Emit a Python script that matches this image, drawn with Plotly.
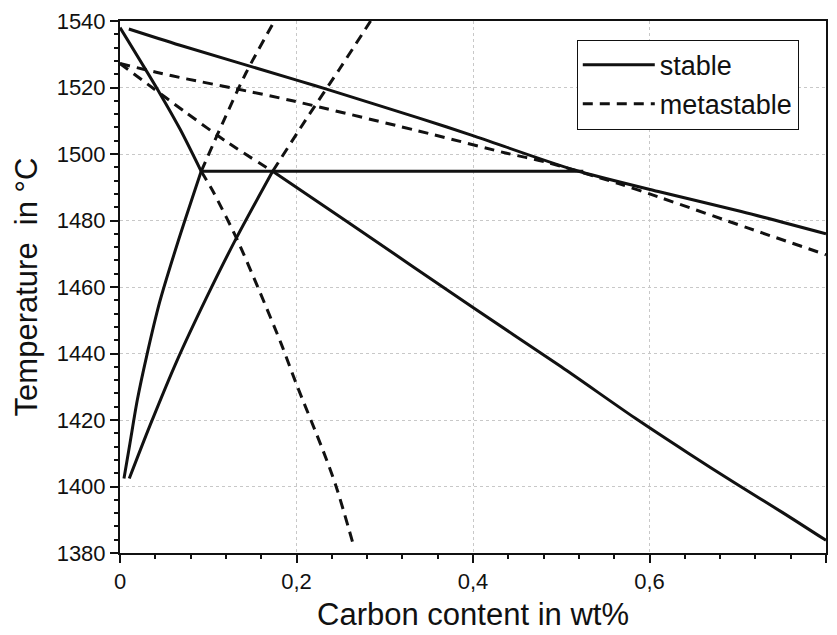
import plotly.graph_objects as go

# ---- data (wt% C, temperature in °C) ----
# stable (solid)
liq_x = [0.01, 0.068, 0.203, 0.234, 0.339, 0.399, 0.516, 0.61, 0.704, 0.8]
liq_y = [1537.6, 1532.7, 1522.0, 1519.5, 1510.8, 1505.6, 1495.1, 1488.7, 1482.7, 1476.0]

dsol_x = [0.0, 0.045, 0.068, 0.092]
dsol_y = [1538.0, 1518.3, 1507.5, 1494.8]

peri_x = [0.092, 0.525]
peri_y = [1494.8, 1494.8]

gsol_x = [0.173, 0.26, 0.4, 0.5, 0.584, 0.644, 0.7, 0.75, 0.8]
gsol_y = [1494.8, 1479.2, 1453.8, 1436.0, 1420.5, 1410.0, 1400.5, 1392.3, 1383.8]

dbound_x = [0.092, 0.065, 0.045, 0.03, 0.0196, 0.0113, 0.0045]
dbound_y = [1494.8, 1473.0, 1455.5, 1439.0, 1426.0, 1413.0, 1402.4]

gbound_x = [0.173, 0.1318, 0.098, 0.064, 0.0339, 0.0105]
gbound_y = [1494.8, 1474.7, 1456.8, 1437.5, 1418.3, 1402.4]

# metastable (dashed)
mliq_x = [0.0, 0.041, 0.0753, 0.128, 0.1955, 0.354, 0.437, 0.482, 0.565, 0.61, 0.712, 0.8]
mliq_y = [1527.2, 1524.6, 1522.6, 1519.8, 1516.0, 1505.9, 1500.3, 1497.6, 1491.1, 1487.1, 1477.7, 1469.7]

mgsol_x = [0.0, 0.0263, 0.0735, 0.124, 0.173]
mgsol_y = [1527.2, 1522.0, 1512.7, 1503.1, 1494.8]

mdsol_x = [0.092, 0.1055, 0.132, 0.158, 0.1827, 0.1996, 0.2298, 0.2448, 0.2644]
mdsol_y = [1494.8, 1488.7, 1474.7, 1458.8, 1442.9, 1431.0, 1411.0, 1400.1, 1382.5]

mdb_x = [0.092, 0.1168, 0.143, 0.175]
mdb_y = [1494.8, 1509.6, 1524.5, 1540.0]

mgb_x = [0.173, 0.211, 0.2486, 0.284]
mgb_y = [1494.8, 1510.5, 1525.5, 1540.0]

x_ticks = [0, 0.2, 0.4, 0.6, 0.8]
x_ticklabels = ["0", "0,2", "0,4", "0,6", "0,8"]
y_ticks = [1380, 1400, 1420, 1440, 1460, 1480, 1500, 1520, 1540]

stable = [(liq_x, liq_y, "spline"), (dsol_x, dsol_y, "spline"), (peri_x, peri_y, "linear"),
          (gsol_x, gsol_y, "spline"), (dbound_x, dbound_y, "spline"), (gbound_x, gbound_y, "spline")]
meta = [(mliq_x, mliq_y), (mgsol_x, mgsol_y), (mdsol_x, mdsol_y), (mdb_x, mdb_y), (mgb_x, mgb_y)]

FONT = "Arial, Liberation Sans, Helvetica, sans-serif"
COL = "#111111"

fig = go.Figure()
for i, (xs, ys, shp) in enumerate(stable):
    fig.add_trace(go.Scatter(x=xs, y=ys, mode="lines", name="stable",
                             legendgroup="s", showlegend=(i == 0),
                             line=dict(color=COL, width=3, shape=shp, smoothing=0.8)))
for i, (xs, ys) in enumerate(meta):
    fig.add_trace(go.Scatter(x=xs, y=ys, mode="lines", name="metastable",
                             legendgroup="m", showlegend=(i == 0),
                             line=dict(color=COL, width=3, dash="10px,7px",
                                       shape="spline", smoothing=0.8)))

fig.update_layout(
    width=837, height=635,
    margin=dict(l=120, r=9, t=18, b=81),
    paper_bgcolor="white", plot_bgcolor="white",
    font=dict(family=FONT, color=COL, size=22),
    legend=dict(x=0.647, y=0.965, xanchor="left", yanchor="top",
                bordercolor=COL, borderwidth=1, bgcolor="white",
                font=dict(size=27), traceorder="grouped", tracegroupgap=1,
                itemwidth=72),
    xaxis=dict(range=[0, 0.8], tickvals=x_ticks, ticktext=x_ticklabels,
               showline=True, linecolor=COL, linewidth=2, mirror=True,
               ticks="outside", ticklen=8, tickwidth=1.5, tickcolor=COL,
               minor=dict(dtick=0.04, ticks="outside", ticklen=4, tickcolor=COL, showgrid=False),
               showgrid=True, gridcolor="#c8c8c8", griddash="dot", gridwidth=1,
               zeroline=False,
               title=dict(text="Carbon content in wt%", font=dict(size=31), standoff=10),
               tickfont=dict(size=22)),
    yaxis=dict(range=[1380, 1540], tickvals=y_ticks,
               showline=True, linecolor=COL, linewidth=2, mirror=True,
               ticks="outside", ticklen=8, tickwidth=1.5, tickcolor=COL,
               minor=dict(dtick=4, ticks="outside", ticklen=4, tickcolor=COL, showgrid=False),
               showgrid=True, gridcolor="#c8c8c8", griddash="dot", gridwidth=1,
               zeroline=False,
               title=dict(text="Temperature  in °C", font=dict(size=31), standoff=10),
               tickfont=dict(size=22)),
)

fig.write_html("out.html")
